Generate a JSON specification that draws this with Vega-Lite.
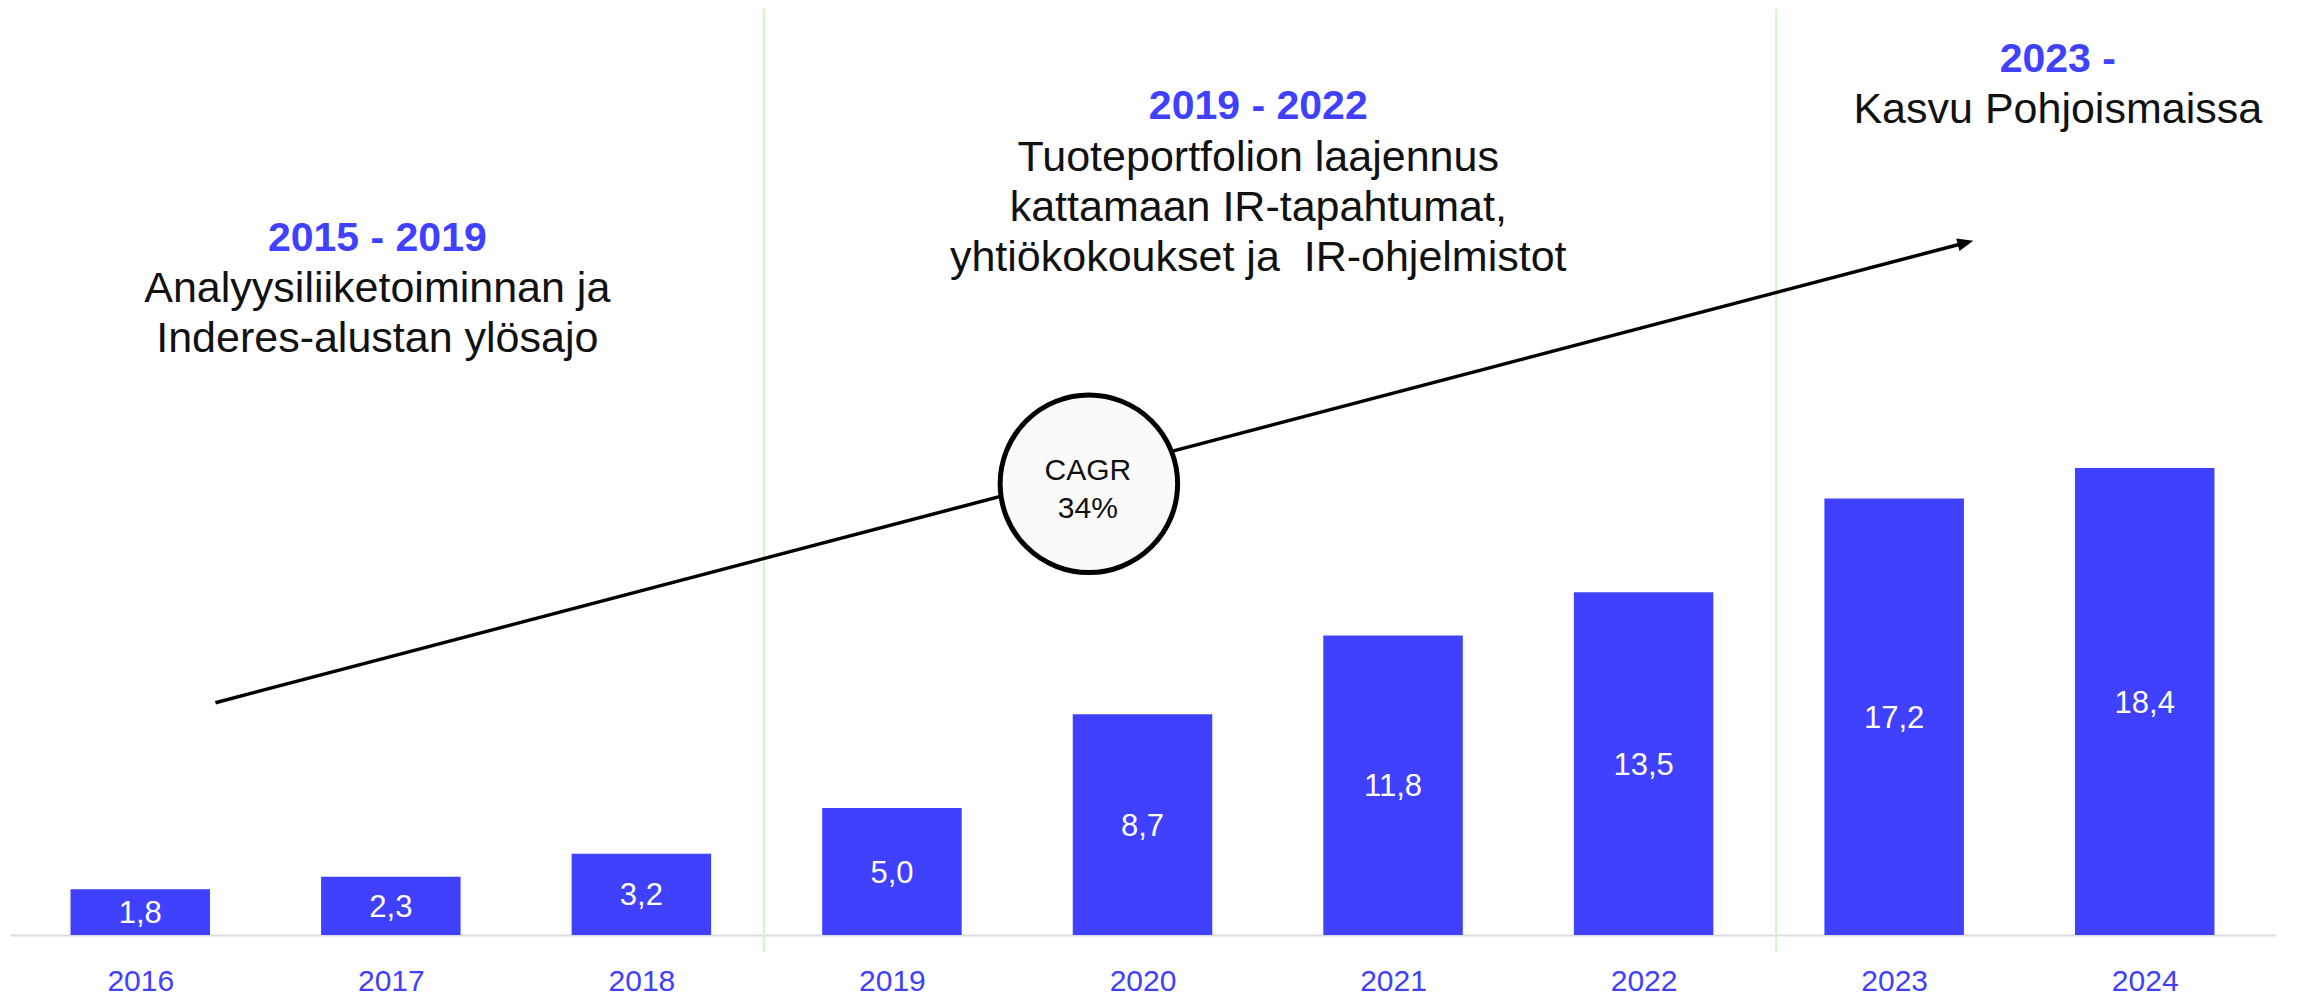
{
  "$schema": "https://vega.github.io/schema/vega-lite/v6.json",
  "width": 2265,
  "height": 927,
  "autosize": {"type": "none"},
  "padding": {"left": 10, "top": 8, "right": 25, "bottom": 60},
  "background": "#ffffff",
  "config": {"view": {"stroke": null}, "font": "Liberation Sans"},
  "datasets": {
    "bars": [
      {"year": 2016, "value": 1.8, "label": "1,8"},
      {"year": 2017, "value": 2.3, "label": "2,3"},
      {"year": 2018, "value": 3.2, "label": "3,2"},
      {"year": 2019, "value": 5.0, "label": "5,0"},
      {"year": 2020, "value": 8.7, "label": "8,7"},
      {"year": 2021, "value": 11.8, "label": "11,8"},
      {"year": 2022, "value": 13.5, "label": "13,5"},
      {"year": 2023, "value": 17.2, "label": "17,2"},
      {"year": 2024, "value": 18.4, "label": "18,4"}
    ],
    "dividers": [{"x": 2018.489}, {"x": 2022.529}],
    "arrow": [{"x": 2016.30, "y": 9.153, "x2": 2023.285, "y2": 27.276}],
    "head": [{"x": 2023.285, "y": 27.276}],
    "circle": [{"x": 2019.786, "y": 17.778}],
    "cagr": [{"x": 2019.782, "y": 17.928, "text": "CAGR\n34%"}],
    "headings": [
      {"x": 2016.946, "y": 26.95, "text": "2015 - 2019"},
      {"x": 2020.462, "y": 32.14, "text": "2019 - 2022"},
      {"x": 2023.653, "y": 34.0, "text": "2023 -"}
    ],
    "bodies": [
      {"x": 2016.946, "y": 24.94, "text": "Analyysiliiketoiminnan ja\nInderes-alustan ylösajo"},
      {"x": 2020.462, "y": 30.12, "text": "Tuoteportfolion laajennus\nkattamaan IR-tapahtumat,\nyhtiökokoukset ja\u00a0 IR-ohjelmistot"},
      {"x": 2023.653, "y": 31.99, "text": "Kasvu Pohjoismaissa"}
    ]
  },
  "layer": [
    {
      "data": {"name": "bars"},
      "mark": {"type": "bar", "color": "#4040ff", "width": 139.5},
      "encoding": {
        "x": {
          "field": "year", "type": "quantitative",
          "scale": {"domain": [2015.5, 2024.5], "nice": false, "zero": false},
          "axis": {
            "values": [2016, 2017, 2018, 2019, 2020, 2021, 2022, 2023, 2024],
            "format": "d", "title": null, "ticks": false, "tickSize": 0, "grid": false,
            "domainColor": "#dcdcdc", "domainWidth": 2,
            "labelColor": "#4040ff", "labelFontSize": 30, "labelFont": "Liberation Sans",
            "labelPadding": 55, "labelBaseline": "alphabetic", "labelFlush": false, "labelOverlap": false
          }
        },
        "y": {"field": "value", "type": "quantitative", "scale": {"domain": [0, 36.525], "nice": false, "zero": false}, "axis": null}
      }
    },
    {
      "data": {"name": "dividers"},
      "mark": {"type": "rule", "color": "#d6f5ba", "strokeWidth": 2},
      "encoding": {
        "x": {"field": "x", "type": "quantitative"},
        "y": {"datum": 36.5, "type": "quantitative"},
        "y2": {"datum": -0.66}
      }
    },
    {
      "data": {"name": "bars"},
      "transform": [{"calculate": "datum.value / 2", "as": "mid"}],
      "mark": {"type": "text", "color": "#ffffff", "fontSize": 31, "font": "Liberation Sans", "align": "center", "baseline": "middle", "dy": 2},
      "encoding": {
        "x": {"field": "year", "type": "quantitative"},
        "y": {"field": "mid", "type": "quantitative"},
        "text": {"field": "label"}
      }
    },
    {
      "data": {"name": "arrow"},
      "mark": {"type": "rule", "color": "#000000", "strokeWidth": 3.5, "strokeCap": "butt"},
      "encoding": {
        "x": {"field": "x", "type": "quantitative"},
        "y": {"field": "y", "type": "quantitative"},
        "x2": {"field": "x2"},
        "y2": {"field": "y2"}
      }
    },
    {
      "data": {"name": "head"},
      "mark": {"type": "point", "shape": "M-1,-0.8125L1,0L-1,0.8125Z", "size": 256, "angle": 345.33, "filled": true, "fill": "#000000", "strokeWidth": 0, "opacity": 1},
      "encoding": {
        "x": {"field": "x", "type": "quantitative"},
        "y": {"field": "y", "type": "quantitative"}
      }
    },
    {
      "data": {"name": "circle"},
      "mark": {"type": "point", "shape": "circle", "size": 31500, "fill": "#fafafa", "stroke": "#000000", "strokeWidth": 5, "opacity": 1, "fillOpacity": 1, "strokeOpacity": 1},
      "encoding": {
        "x": {"field": "x", "type": "quantitative"},
        "y": {"field": "y", "type": "quantitative"}
      }
    },
    {
      "data": {"name": "cagr"},
      "mark": {"type": "text", "color": "#111111", "fontSize": 30, "font": "Liberation Sans", "align": "center", "baseline": "alphabetic", "lineBreak": "\n", "lineHeight": 37.7},
      "encoding": {
        "x": {"field": "x", "type": "quantitative"},
        "y": {"field": "y", "type": "quantitative"},
        "text": {"field": "text"}
      }
    },
    {
      "data": {"name": "headings"},
      "mark": {"type": "text", "color": "#4040ff", "fontSize": 41, "fontWeight": "bold", "font": "Liberation Sans", "align": "center", "baseline": "alphabetic"},
      "encoding": {
        "x": {"field": "x", "type": "quantitative"},
        "y": {"field": "y", "type": "quantitative"},
        "text": {"field": "text"}
      }
    },
    {
      "data": {"name": "bodies"},
      "mark": {"type": "text", "color": "#111111", "fontSize": 43, "font": "Liberation Sans", "align": "center", "baseline": "alphabetic", "lineBreak": "\n", "lineHeight": 50},
      "encoding": {
        "x": {"field": "x", "type": "quantitative"},
        "y": {"field": "y", "type": "quantitative"},
        "text": {"field": "text"}
      }
    }
  ]
}
